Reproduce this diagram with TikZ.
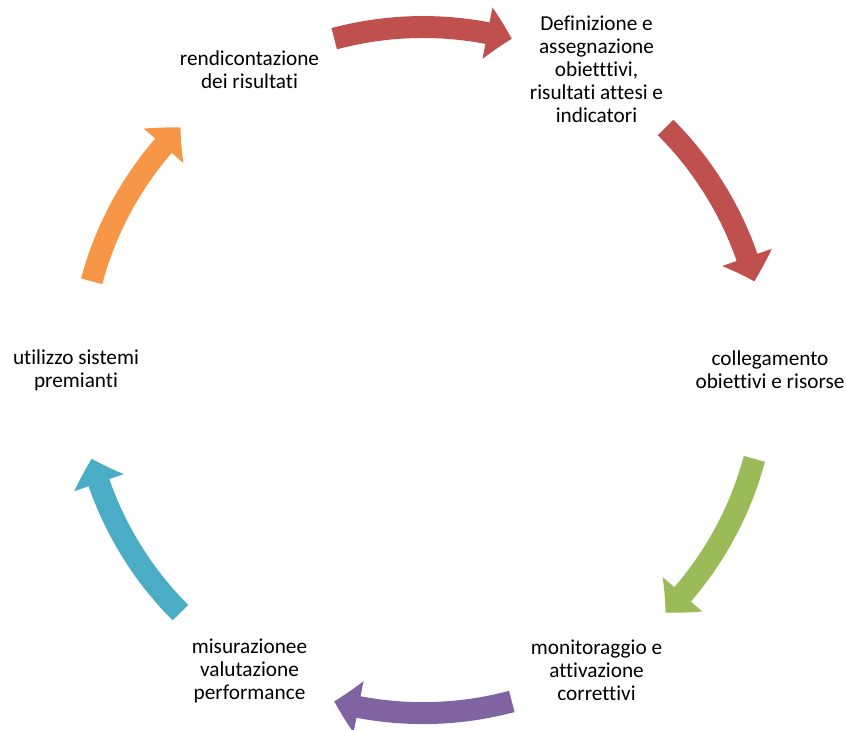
\documentclass[tikz,border=0pt]{standalone}
\usepackage{fontspec}
\setmainfont{Carlito}[Ligatures={NoCommon}]
\usepackage{tikz}
\usetikzlibrary{calc,arrows.meta,bending}
\definecolor{cycleRed}{HTML}{C0504D}
\definecolor{cycleGreen}{HTML}{9BBB59}
\definecolor{cyclePurple}{HTML}{8064A2}
\definecolor{cycleBlue}{HTML}{4BACC6}
\definecolor{cycleOrange}{HTML}{F79646}
\newcommand{\ringRadius}{9.075}
\newcommand{\textRadius}{9.18}
\tikzset{
  cyclearrow/.style={line width=5.8mm, -{Triangle[length=6.6mm, width=13.8mm, line width=1pt, bend]}},
  cycletext/.style={align=center, font=\fontsize{16}{17.25}\selectfont}
}

\begin{document}
\begin{tikzpicture}
      \useasboundingbox (0, 0) rectangle (22.38, 19.29);
      \coordinate (c) at (11.19, 9.50);

      % steps of the cycle
      \node[cycletext] (obiettivi) at ($(c)+(60:\textRadius)$) {Definizione e\\assegnazione\\obietttivi,\\risultati attesi e\\indicatori};
      \node[cycletext] (risorse) at ($(c)+(0:\textRadius)$) {collegamento\\obiettivi e risorse};
      \node[cycletext] (monitoraggio) at ($(c)+(-60:\textRadius)$) {monitoraggio e\\attivazione\\correttivi};
      \node[cycletext] (misurazione) at ($(c)+(-120:\textRadius)$) {misurazionee\\valutazione\\performance};
      \node[cycletext] (premianti) at ($(c)+(180:\textRadius)$) {utilizzo sistemi\\premianti};
      \node[cycletext] (rendiconto) at ($(c)+(120:\textRadius)$) {rendicontazione\\dei risultati};

      % arrows between the steps
      \coordinate (a1) at ($(c)+(105:\ringRadius)$);
      \coordinate (a2) at ($(c)+(45:\ringRadius)$);
      \coordinate (a3) at ($(c)+(-15:\ringRadius)$);
      \coordinate (a4) at ($(c)+(-75:\ringRadius)$);
      \coordinate (a5) at ($(c)+(-135:\ringRadius)$);
      \coordinate (a6) at ($(c)+(165:\ringRadius)$);

      \draw[cyclearrow, color=cycleRed] (a1) arc[start angle=105, end angle=75, radius=\ringRadius];
      \draw[cyclearrow, color=cycleRed] (a2) arc[start angle=45, end angle=15, radius=\ringRadius];
      \draw[cyclearrow, color=cycleGreen] (a3) arc[start angle=-15, end angle=-45, radius=\ringRadius];
      \draw[cyclearrow, color=cyclePurple] (a4) arc[start angle=-75, end angle=-105, radius=\ringRadius];
      \draw[cyclearrow, color=cycleBlue] (a5) arc[start angle=-135, end angle=-165, radius=\ringRadius];
      \draw[cyclearrow, color=cycleOrange] (a6) arc[start angle=165, end angle=135, radius=\ringRadius];
\end{tikzpicture}
\end{document}
